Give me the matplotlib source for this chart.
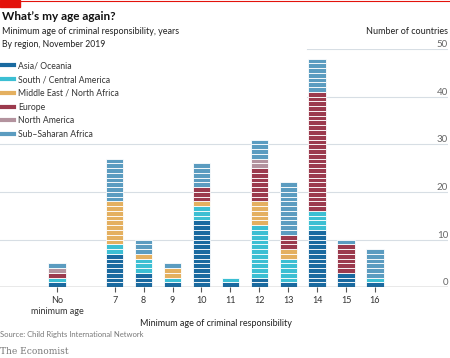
import matplotlib.pyplot as plt
from matplotlib.lines import Line2D
from matplotlib.patches import Rectangle

plt.rcParams['font.family'] = ['Lato', 'DejaVu Sans']

# categories on the x axis
ages = ['No\nminimum age', '7', '8', '9', '10', '11', '12', '13', '14', '15', '16']
xpos = [0, 2, 3, 4, 5, 6, 7, 8, 9, 10, 11]

# number of countries per region, in stacking order (bottom to top)
regions = ['Asia/ Oceania', 'South / Central America', 'Middle East / North Africa',
           'Europe', 'North America', 'Sub\u2013Saharan Africa']
asia = [1, 7, 3, 1, 14, 1, 2, 1, 12, 3, 1]
south_america = [1, 2, 3, 1, 3, 1, 11, 5, 4, 0, 1]
middle_east = [0, 9, 1, 2, 1, 0, 5, 2, 0, 0, 0]
europe = [1, 0, 0, 0, 3, 0, 7, 3, 25, 6, 0]
north_america = [1, 0, 0, 0, 0, 0, 2, 0, 0, 0, 0]
ss_africa = [1, 9, 3, 1, 5, 0, 4, 11, 7, 1, 6]
series = [asia, south_america, middle_east, europe, north_america, ss_africa]
colors = ['#1a6aa0', '#3cbfd3', '#e4b060', '#9b3a4d', '#b3939e', '#5b9cc0']

fig = plt.figure(figsize=(4.5, 3.58), dpi=100)
ax = fig.add_axes([0.0, 0.198, 0.9956, 0.665])

# stacked bars, one block per country
bottoms = [0] * len(xpos)
for vals, col in zip(series, colors):
    for i, n in enumerate(vals):
        for k in range(n):
            ax.bar(xpos[i], 1, bottom=bottoms[i] + k, width=0.6, color=col,
                   edgecolor='white', linewidth=0.6, zorder=3)
        bottoms[i] += n

ax.set_xlim(-1.97, 13.53)
ax.set_ylim(0, 50)

# gridlines (upper ones are hidden behind the legend area)
for y in [10, 20, 30]:
    ax.axhline(y, color='#d7dee4', linewidth=0.8, zorder=1)
for y in [40, 50]:
    ax.axhline(y, xmin=(8.65 + 1.97) / 15.5, color='#d7dee4', linewidth=0.8, zorder=1)
ax.axhline(0, color='#555555', linewidth=0.9, zorder=4)

for s in ax.spines.values():
    s.set_visible(False)

ax.set_xticks(xpos)
ax.set_xticklabels(ages, fontsize=6.5, color='#333333', linespacing=1.3)
ax.tick_params(axis='x', length=3.5, width=0.8, color='#555555', pad=3)

ax.yaxis.tick_right()
ax.set_yticks([0, 10, 20, 30, 40, 50])
ax.tick_params(axis='y', length=0, pad=0, labelsize=7, labelcolor='#666666')
for lab in ax.get_yticklabels():
    lab.set_horizontalalignment('right')
    lab.set_verticalalignment('bottom')

ax.text(5.5, -0.135, 'Minimum age of criminal responsibility', transform=ax.get_xaxis_transform(),
        ha='center', va='top', fontsize=6.5, color='#222222')

# legend
handles = [Line2D([0], [0], color=c, linewidth=3) for c in colors]
fig.legend(handles, regions, loc='upper left', bbox_to_anchor=(-0.012, 0.85), frameon=False,
           fontsize=6.2, handlelength=1.4, handletextpad=0.4, labelspacing=0.55,
           labelcolor='#333333')

# header
fig.add_artist(Line2D([0, 1], [0.996, 0.996], color='#e3120b', linewidth=0.8))
fig.add_artist(Rectangle((0, 0.98), 0.045, 0.02, color='#e3120b', transform=fig.transFigure))
fig.text(0.004, 0.953, 'What\u2019s my age again?', fontsize=8.5, fontweight='bold', color='#111111', va='center')
fig.text(0.004, 0.913, 'Minimum age of criminal responsibility, years', fontsize=6.5, color='#222222', va='center')
fig.text(0.004, 0.877, 'By region, November 2019', fontsize=6.2, color='#222222', va='center')
fig.text(0.996, 0.911, 'Number of countries', fontsize=6.5, color='#222222', va='center', ha='right')

fig.text(0.0, 0.067, 'Source: Child Rights International Network', fontsize=5.5, color='#777777', va='center')
fig.text(0.0, 0.017, 'The Economist', fontsize=6.5, color='#777777', va='center', family='DejaVu Serif')

fig.savefig('out.png', dpi=100)
